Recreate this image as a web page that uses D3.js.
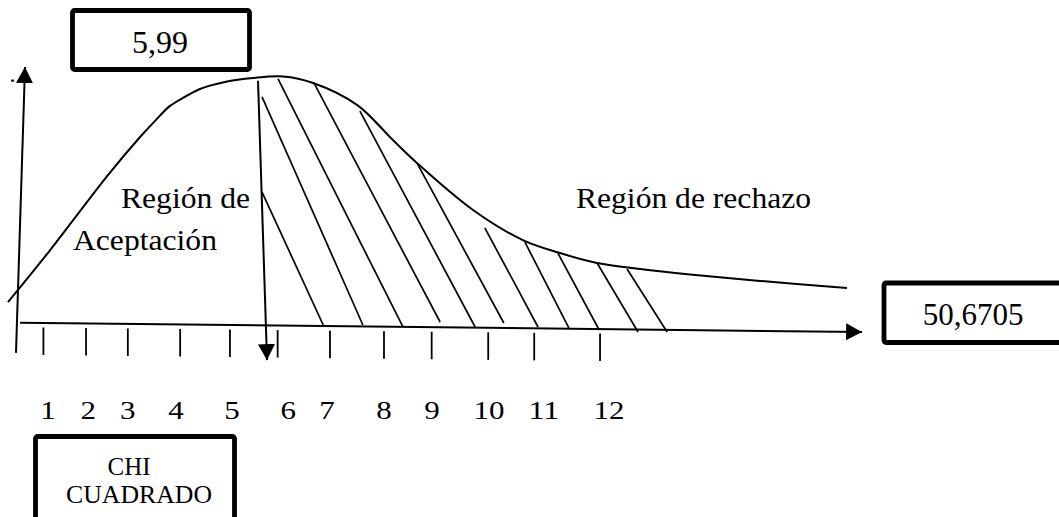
<!DOCTYPE html>
<html>
<head>
<meta charset="utf-8">
<script src="https://cdn.jsdelivr.net/npm/d3@7"></script>
<style>
  html, body { margin: 0; padding: 0; background: #fff; }
  svg { display: block; }
  text { font-family: "Liberation Serif", "Times New Roman", Times, "Nimbus Roman", serif; fill: #000; }
</style>
</head>
<body>
<svg id="chart" width="1059" height="517" font-family="Liberation Serif, Times New Roman, serif"></svg>
<script>
// Chi-square distribution sketch: acceptance / rejection regions.
// Horizontal unit: position along the chi-square axis; vertical unit: relative density (peak = 1).

// Density curve (position, relative height)
const curveU = [-0.19, 0.81, 2.16, 2.94, 3.29, 3.65, 4.00, 4.36, 4.95, 5.62, 6.33, 7.04, 8.08, 8.93, 9.50, 10.83, 12.01, 12.89, 13.77, 14.79, 15.97, 17.63, 19.69];
const curveD = [0.092, 0.301, 0.598, 0.755, 0.819, 0.880, 0.916, 0.948, 0.976, 0.992, 0.998, 0.972, 0.884, 0.743, 0.651, 0.462, 0.341, 0.289, 0.249, 0.225, 0.203, 0.177, 0.149];

// Axis ticks and their labels
const tickAt = [0.65, 1.66, 2.65, 3.89, 5.07, 6.20, 7.44, 8.72, 9.85, 11.19, 12.28, 13.84];
const tickLabels = ["1", "2", "3", "4", "5", "6", "7", "8", "9", "10", "11", "12"];
const labelAt = [0.76, 1.71, 2.65, 3.79, 5.12, 6.45, 7.37, 8.72, 9.86, 11.21, 12.51, 14.05];

// Hatching of the rejection region: start and end of each stroke
const hatchStartU = [5.83, 5.83, 6.21, 7.06, 8.15, 9.50, 11.11, 12.06, 12.84, 13.77, 14.48];
const hatchStartD = [0.916, 0.534, 0.988, 0.972, 0.859, 0.651, 0.390, 0.333, 0.289, 0.249, 0.225];
const hatchEndU   = [8.22, 7.28, 9.17, 10.05, 10.88, 11.56, 12.37, 13.10, 13.82, 14.74, 15.43];
const hatchEndD   = [0.000, 0.000, -0.008, 0.012, -0.008, 0.008, -0.008, -0.012, -0.020, -0.028, -0.028];

// Axes and the critical-value arrow (start, tip)
const xAxisLine = [[0.095, 0.009], [20.05, -0.028]];
const yAxisLine = [[0.0, -0.112], [0.213, 1.036]];
const criticalLine = [[5.735, 0.981], [5.948, -0.141]];

// Texts
const criticalValue = "5,99";
const statisticValue = "50,6705";
const acceptLines = ["Región de", "Aceptación"];
const rejectLabel = "Región de rechazo";
const axisTitle = ["CHI", "CUADRADO"];

const svg = d3.select("#chart");
const x = d3.scaleLinear().domain([0, 20]).range([16, 860]);
const y = d3.scaleLinear().domain([0, 1]).range([325, 76]);

svg.append("rect").attr("width", 1059).attr("height", 517).attr("fill", "#fff");

// Arrowhead marker
svg.append("defs").append("marker")
  .attr("id", "head")
  .attr("viewBox", "0 -9 16 18")
  .attr("markerWidth", 16).attr("markerHeight", 18)
  .attr("markerUnits", "userSpaceOnUse")
  .attr("refX", 16).attr("refY", 0)
  .attr("orient", "auto")
  .append("path").attr("d", "M0,-8.5L16,0L0,8.5Z").attr("fill", "#000");

const seg = d3.line().x(d => x(d[0])).y(d => y(d[1]));

// Axes
svg.append("path").attr("d", seg(xAxisLine))
  .attr("stroke", "#000").attr("stroke-width", 2).attr("fill", "none")
  .attr("marker-end", "url(#head)");
svg.append("path").attr("d", seg(yAxisLine))
  .attr("stroke", "#000").attr("stroke-width", 2).attr("fill", "none")
  .attr("marker-end", "url(#head)");

// Axis baseline height as a function of position (axis is slightly slanted)
const axisY = d3.scaleLinear()
  .domain([xAxisLine[0][0], xAxisLine[1][0]])
  .range([y(xAxisLine[0][1]), y(xAxisLine[1][1])]);

// Ticks
svg.append("g").selectAll("line").data(tickAt).join("line")
  .attr("x1", d => x(d)).attr("x2", d => x(d))
  .attr("y1", d => axisY(d) + 4.5)
  .attr("y2", d => axisY(d) + 32)
  .attr("stroke", "#000").attr("stroke-width", 1.8);

// Tick labels
svg.append("g").selectAll("text").data(tickLabels).join("text")
  .attr("x", (d, i) => x(labelAt[i]))
  .attr("y", 419)
  .attr("text-anchor", "middle")
  .attr("font-size", 25)
  .attr("textLength", d => d.length * 15.5)
  .attr("lengthAdjust", "spacingAndGlyphs")
  .text(d => d);

// Density curve
const curvePts = curveU.map((u, i) => [u, curveD[i]]);
svg.append("path")
  .attr("d", d3.line().x(d => x(d[0])).y(d => y(d[1])).curve(d3.curveCatmullRom.alpha(0.5))(curvePts))
  .attr("stroke", "#000").attr("stroke-width", 2).attr("fill", "none");

// Hatching
svg.append("g").selectAll("line").data(hatchStartU).join("line")
  .attr("x1", (d, i) => x(d)).attr("y1", (d, i) => y(hatchStartD[i]))
  .attr("x2", (d, i) => x(hatchEndU[i])).attr("y2", (d, i) => y(hatchEndD[i]))
  .attr("stroke", "#000").attr("stroke-width", 1.7);

// Critical value arrow
svg.append("path").attr("d", seg(criticalLine))
  .attr("stroke", "#000").attr("stroke-width", 2).attr("fill", "none")
  .attr("marker-end", "url(#head)");

// Small dot beside the vertical axis
svg.append("text").attr("x", 9.5).attr("y", 81.5).attr("font-size", 24).text(".");

// Region labels
svg.append("text").attr("x", 121).attr("y", 207.5).attr("font-size", 30)
  .attr("textLength", 129).attr("lengthAdjust", "spacingAndGlyphs").text(acceptLines[0]);
svg.append("text").attr("x", 73).attr("y", 250).attr("font-size", 30)
  .attr("textLength", 144).attr("lengthAdjust", "spacingAndGlyphs").text(acceptLines[1]);
svg.append("text").attr("x", 576).attr("y", 208).attr("font-size", 30)
  .attr("textLength", 235).attr("lengthAdjust", "spacingAndGlyphs").text(rejectLabel);

// Boxed annotations
function box(bx, by, bw, bh) {
  svg.append("rect").attr("x", bx).attr("y", by).attr("width", bw).attr("height", bh)
    .attr("rx", 2).attr("fill", "none").attr("stroke", "#000").attr("stroke-width", 4.8);
}

box(72.5, 10.5, 177, 59);
svg.append("text").attr("x", 160).attr("y", 53).attr("font-size", 32)
  .attr("text-anchor", "middle").text(criticalValue);

box(884, 283, 220, 59.5);
svg.append("text").attr("x", 973).attr("y", 325).attr("font-size", 31)
  .attr("text-anchor", "middle").text(statisticValue);

box(35.5, 436.5, 199, 120);
svg.append("text").attr("x", 129).attr("y", 475).attr("font-size", 25)
  .attr("text-anchor", "middle").text(axisTitle[0]);
svg.append("text").attr("x", 139).attr("y", 503).attr("font-size", 25)
  .attr("text-anchor", "middle")
  .attr("textLength", 146).attr("lengthAdjust", "spacingAndGlyphs").text(axisTitle[1]);
</script>
</body>
</html>
